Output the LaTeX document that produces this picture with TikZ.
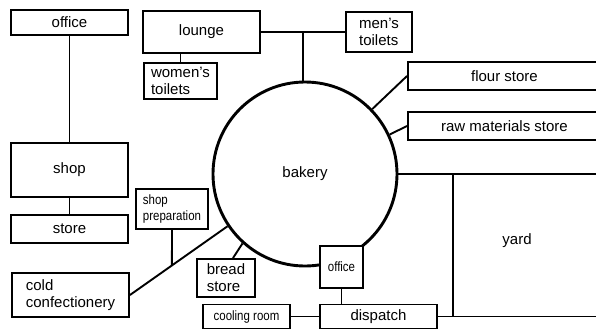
\documentclass[tikz,border=0pt]{standalone}
\usepackage{fontspec}
\setmainfont{Liberation Sans}
\newfontfamily\narrowfont[FakeStretch=0.85]{Liberation Sans}

\begin{document}
\begin{tikzpicture}[x=1bp,y=-1bp,font=\fontsize{15bp}{17bp}\selectfont,
 box/.style={draw,line width=1.9bp,fill=white,inner sep=0pt,align=left},
 small/.style={font=\fontsize{13.5bp}{15.5bp}\narrowfont},
 link/.style={line width=1.9bp}]
\clip (0,0) rectangle (596,331);
\node[circle,draw,line width=2.9bp,minimum size=184bp,inner sep=0pt] (bakery) at (305,174) {bakery};
\node[box,minimum width=117bp,minimum height=25bp] (office) at (69.5,22.5) {office};
\node[box,minimum width=117bp,minimum height=42bp] (lounge) at (201.5,32) {lounge};
\node[box,minimum width=73bp,minimum height=36bp] (women) at (180.5,81) {women's\\toilets};
\node[box,minimum width=66bp,minimum height=40bp] (men) at (379,32) {men's\\toilets};
\node[box,anchor=west,minimum width=193bp,minimum height=28bp] (flour) at (407,76) {flour store};
\node[box,anchor=west,minimum width=193bp,minimum height=28bp] (raw) at (407,126) {raw materials store};
\node[box,minimum width=117bp,minimum height=54bp] (shop) at (69.5,170) {shop};
\node[box,minimum width=117bp,minimum height=28bp] (store) at (69.5,229) {store};
\node[box,small,minimum width=72bp,minimum height=40bp] (prep) at (172,209) {shop\\preparation};
\node[box,minimum width=117bp,minimum height=44bp] (cold) at (70.5,295) {cold\\confectionery};
\node[box,minimum width=58bp,minimum height=38bp] (bread) at (226,278) {bread\\store};
\node[box,small,minimum width=87bp,minimum height=24bp] (cooling) at (246.5,316.5) {cooling room};
\node[box,minimum width=117bp,minimum height=24bp] (dispatch) at (378.5,316.5) {dispatch};
\node[box,small,minimum width=43bp,minimum height=42bp] (office2) at (341.5,267) {office};
\node (yard) at (517,241) {yard};
\coordinate (ynw) at (453,174);
\coordinate (yne) at (600,174);
\coordinate (ysw) at (453,316.5);
\coordinate (yse) at (600,316.5);
\coordinate (junc) at (303,32);
\draw[link] (office.south) -- (office.south |- shop.north);
\draw[link] (shop.south) -- (shop.south |- store.north);
\draw[link] (women.north) -- (women.north |- lounge.south);
\draw[link] (lounge.east) -- (men.west);
\draw[link] (junc) -- (junc |- bakery.north);
\draw[link] (bakery.44) -- (flour.west);
\draw[link] (bakery.25) -- (raw.west);
\draw[link] (bakery.east) -- (yne);
\draw[link] (ynw) -- (ysw);
\draw[link] (dispatch.east) -- (yse);
\draw[link] (cooling) -- (dispatch);
\draw[line width=0.9bp] (office2.south) -- (office2.south |- dispatch.north);
\draw[link] (bakery.228) -- ([xshift=7bp]bread.north);
\draw[link] (cold.east) -- coordinate[pos=0.43] (cj) (bakery.214);
\draw[link] (prep.south) -- (cj);
\end{tikzpicture}
\end{document}
